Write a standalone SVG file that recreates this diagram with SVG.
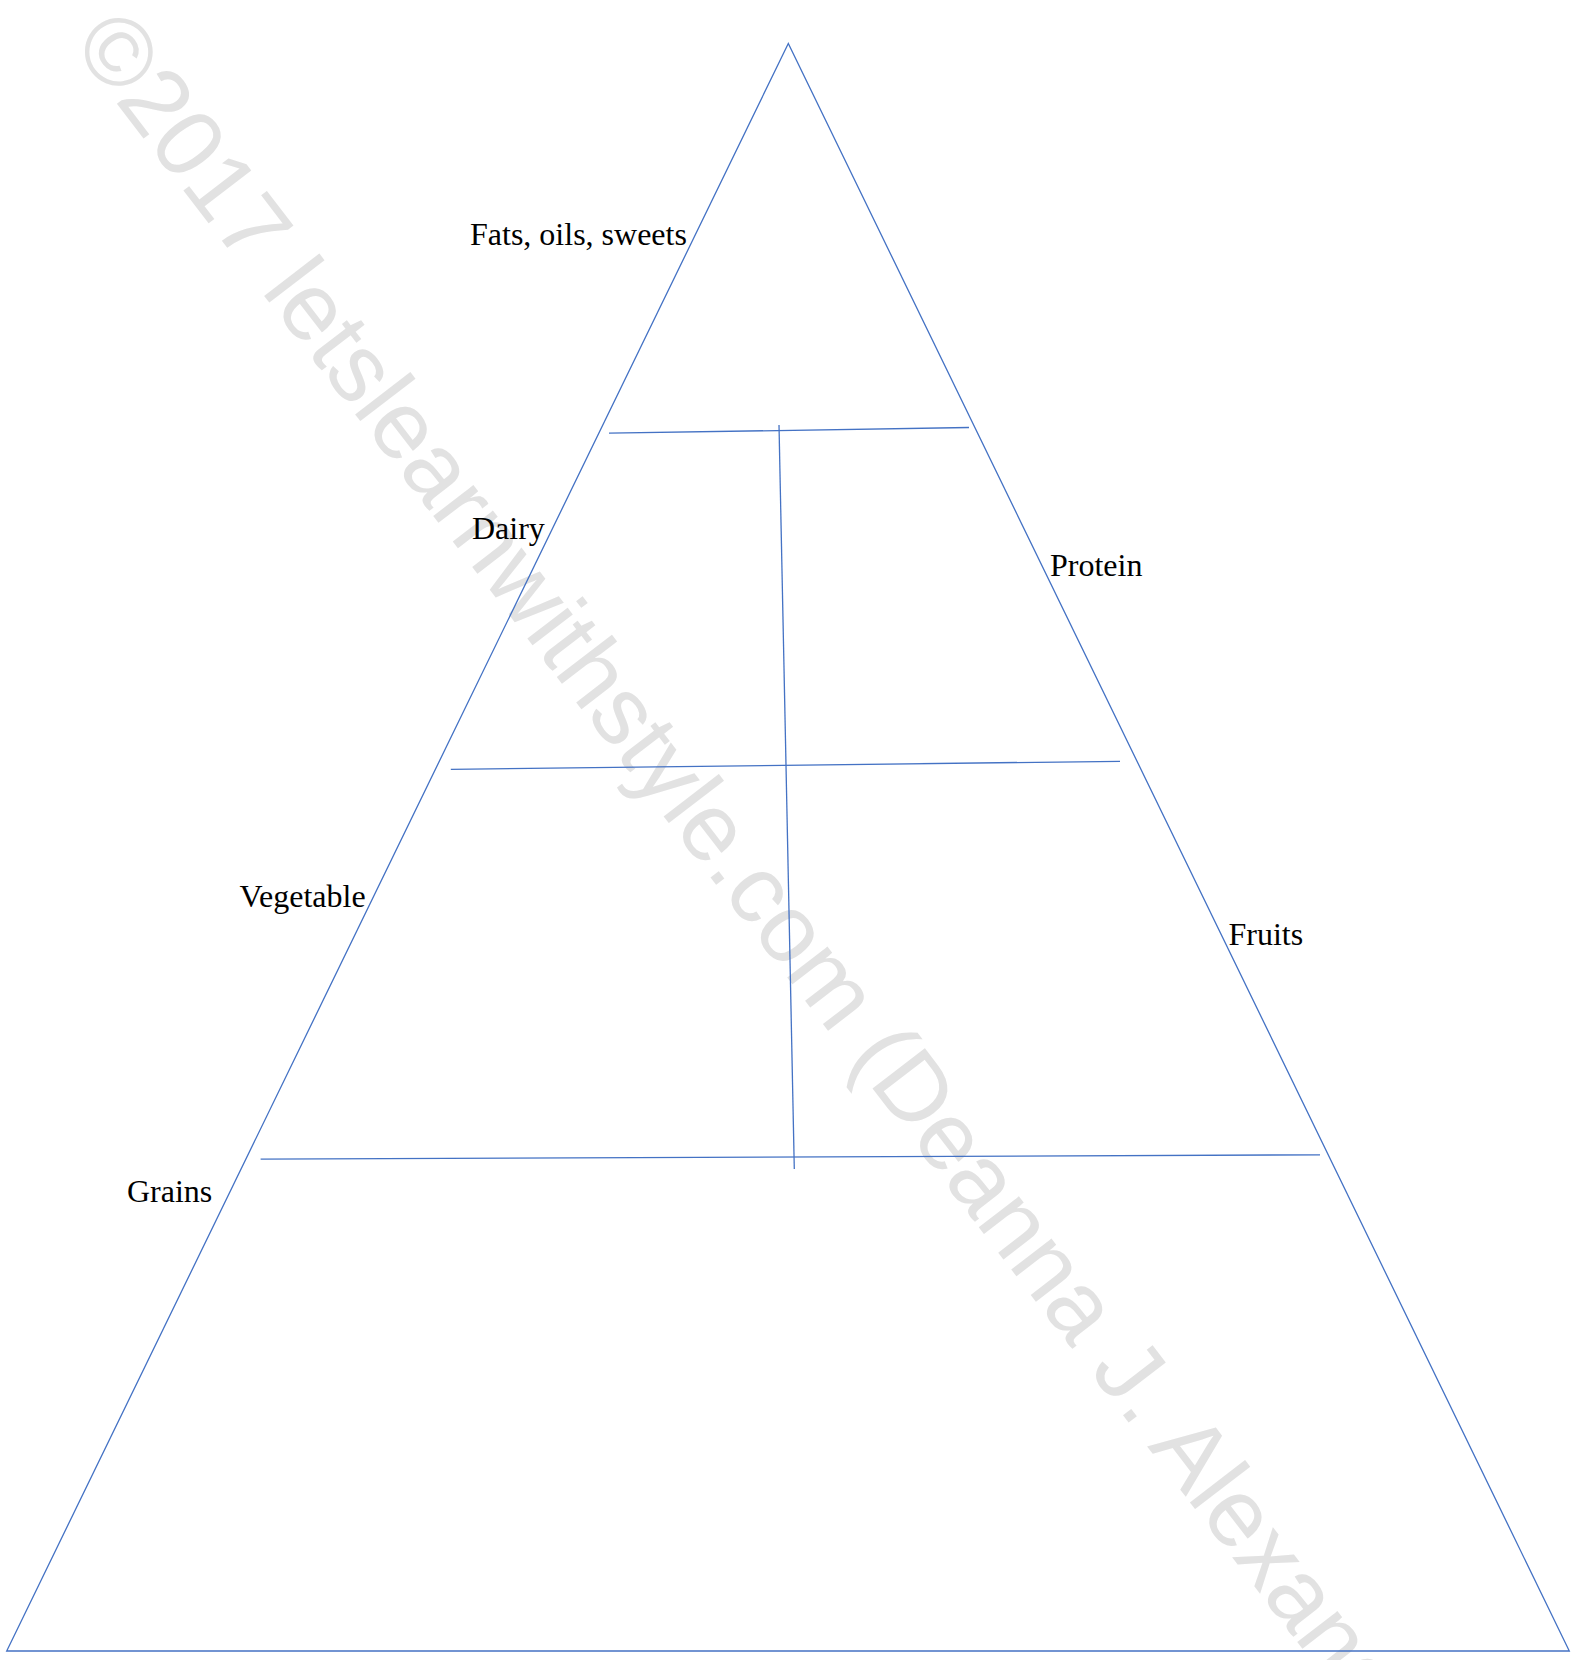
<svg xmlns="http://www.w3.org/2000/svg" width="1583" height="1660" viewBox="0 0 1583 1660">
<style>
.ln{stroke:#4472c4;stroke-width:1.3;fill:none}
.lb{font-family:"Liberation Serif","Times New Roman",serif;font-size:32px;fill:#000}
.wm{font-family:"Liberation Sans",Arial,sans-serif;font-size:96px;fill:#e2e2e2}
</style>
<rect width="1583" height="1660" fill="#fff"/>
<g id="watermark">
<text class="wm" transform="translate(71,44) rotate(52.5)">©2017 letslearnwithstyle.com (Deanna J. Alexander)</text>
</g>
<g id="connectors">
<polygon id="pyramid" class="ln" points="788.3,43.5 6.7,1651 1569.3,1651"/>
<line class="ln" x1="609" y1="433.2" x2="969" y2="427.5"/>
<line class="ln" x1="450.8" y1="769.3" x2="1120" y2="761.3"/>
<line class="ln" x1="260.6" y1="1159.2" x2="1320" y2="1154.8"/>
<line class="ln" x1="779" y1="425" x2="794.3" y2="1169"/>
</g>
<g id="fats"><text class="lb" x="470" y="245">Fats, oils, sweets</text></g>
<g id="dairy"><text class="lb" x="472" y="539">Dairy</text></g>
<g id="protein"><text class="lb" x="1050" y="575.5">Protein</text></g>
<g id="vegetable"><text class="lb" x="239.5" y="906.5">Vegetable</text></g>
<g id="fruits"><text class="lb" x="1228.5" y="944.5">Fruits</text></g>
<g id="grains"><text class="lb" x="127" y="1201.5">Grains</text></g>
</svg>
